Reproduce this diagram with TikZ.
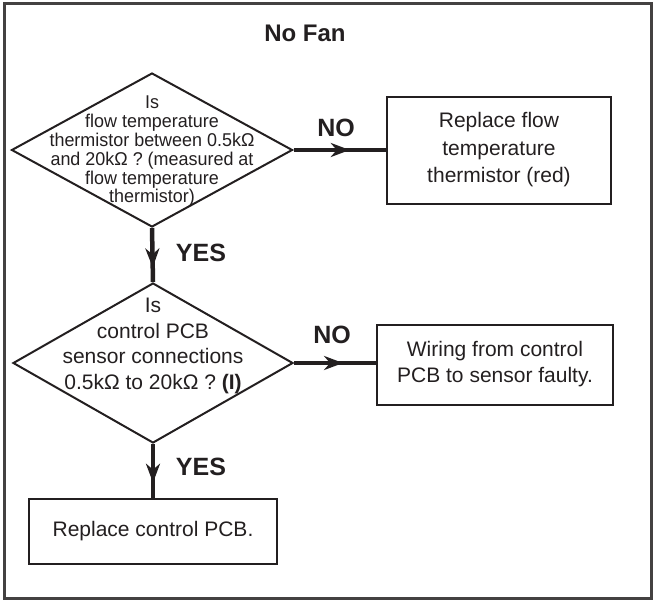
\documentclass[tikz,border=0pt]{standalone}
\usepackage{fontspec}
\setmainfont{Liberation Sans}
\newfontfamily\narrowfont[FakeStretch=0.97]{Liberation Sans}
\usetikzlibrary{shapes.geometric,arrows.meta,decorations.markings}
\definecolor{ink}{HTML}{231F20}
\tikzset{
  dec/.style={draw=ink, shape=diamond, line width=2pt, inner sep=0pt},
  boxx/.style={draw=ink, rectangle, line width=2.5pt, inner sep=0pt},
  txt/.style={inner sep=0pt, align=center, text=ink, font=\fontsize{21}{26}\selectfont},
  lbl/.style={inner sep=0pt, text=ink, font=\bfseries\fontsize{25}{25}\selectfont},
  conn/.style={draw=ink, line width=4.5pt, postaction={decorate},
    decoration={markings, mark=at position #1 with {\arrow{Stealth[length=19pt,width=14pt,inset=6pt]}}}}
}
\begin{document}
\begin{tikzpicture}[x=1pt,y=-1pt]
\useasboundingbox (0,0) rectangle (655,600);
\node[draw=ink!85, line width=2.5pt, rectangle, minimum width=647pt, minimum height=595pt, inner sep=0pt] (frame) at (328,301) {};
\node[lbl, font=\bfseries\fontsize{24}{24}\selectfont] (title) at (305,33) {No Fan};

\node[dec, minimum width=281pt, minimum height=154pt] (d1) at (152,150) {};
\node[txt, font=\narrowfont\fontsize{18.5}{18.8}\selectfont] (d1t) at (152,151.5) {Is\\flow temperature\\thermistor between 0.5kΩ\\and 20kΩ ? (measured at\\flow temperature\\thermistor)};

\node[dec, minimum width=280pt, minimum height=160pt] (d2) at (153,363) {};
\node[txt, font=\fontsize{21}{25.7}\selectfont] (d2t) at (153,346) {Is\\control PCB\\sensor connections\\0.5kΩ to 20kΩ ? \textbf{(I)}};

\node[boxx, minimum width=224pt, minimum height=107pt] (b1) at (499,150.5) {};
\node[txt, font=\fontsize{21}{27.5}\selectfont] (b1t) at (499,150) {Replace flow\\temperature\\thermistor (red)};

\node[boxx, minimum width=236pt, minimum height=80pt] (b2) at (495,365) {};
\node[txt] (b2t) at (495,364) {Wiring from control\\PCB to sensor faulty.};

\node[boxx, minimum width=248pt, minimum height=65pt] (b3) at (153,531.5) {};
\node[txt] (b3t) at (153,531) {Replace control PCB.};

\draw[conn=0.73] (d1.south) -- (d2.north);
\draw[conn=0.72] (d2.south) -- (b3.north);
\draw[conn=0.61] (d1.east) -- (d1.east -| b1.west);
\draw[conn=0.6] (d2.east) -- (d2.east -| b2.west);

\node[lbl] (no1) at (336,128) {NO};
\node[lbl] (no2) at (332,335) {NO};
\node[lbl] (yes1) at (201,253) {YES};
\node[lbl] (yes2) at (201,467) {YES};
\end{tikzpicture}
\end{document}
